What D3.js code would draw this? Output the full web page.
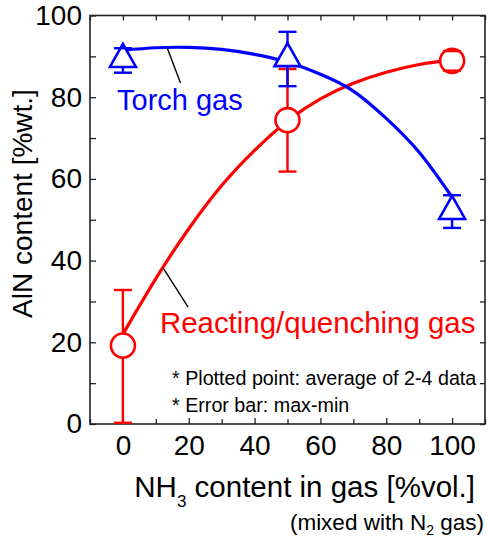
<!DOCTYPE html>
<html>
<head>
<meta charset="utf-8">
<script src="https://cdnjs.cloudflare.com/ajax/libs/d3/7.8.5/d3.min.js"></script>
<style>
  body { margin: 0; background: #fff; }
  svg text { font-family: "Liberation Sans", Arial, sans-serif; }
</style>
</head>
<body>
<div id="chart"></div>
<script>
// measured points (mean, max, min)
const nh3 = [0, 50, 100];
const torchMean = [89.6, 89.8, 52.4];
const torchMax = [92, 96, 56];
const torchMin = [86, 82.7, 48];
const reactMean = [19.2, 74.4, 88.9];
const reactMax = [32.8, 86.9, 91.3];
const reactMin = [0.3, 61.8, 86.5];

// fitted curves
const torchCurveX = [0, 10, 20, 30, 40, 50, 60, 70, 80, 90, 100];
const torchCurveY = [91.5, 92.1, 92.2, 91.7, 90.5, 88.6, 85.6, 81.5, 74.8, 66.5, 55.5];
const reactCurveX = [0, 10, 20, 30, 40, 50, 60, 70, 80, 90, 100];
const reactCurveY = [22, 35.6, 47.8, 58.4, 67, 74.2, 79.6, 83.4, 86.1, 88, 89.2];

const xMajor = [0, 20, 40, 60, 80, 100];
const xMinor = [-10, 10, 30, 50, 70, 90, 110];
const yMajor = [0, 20, 40, 60, 80, 100];
const yMinor = [10, 30, 50, 70, 90];

const W = 488, H = 541;
const pLeft = 90, pRight = 485, pTop = 15.5, pBottom = 424;
const blue = "#0000ff", red = "#ff0000";

const svg = d3.select("#chart").append("svg")
  .attr("width", W).attr("height", H);

const x = d3.scaleLinear().domain([-10, 110]).range([pLeft, pRight]);
const y = d3.scaleLinear().domain([0, 100]).range([pBottom, pTop]);

// axes, ticks pointing inward
function noLabels(g) { g.selectAll("text").remove(); g.select(".domain").remove(); }

svg.append("g").attr("transform", `translate(0,${pBottom})`)
  .call(d3.axisBottom(x).tickValues(xMajor).tickSize(-6).tickPadding(11).tickFormat(d3.format("d")))
  .call(g => g.select(".domain").remove())
  .call(g => g.selectAll("text").attr("font-size", 28).attr("fill", "#000"));
svg.append("g").attr("transform", `translate(0,${pBottom})`)
  .call(d3.axisBottom(x).tickValues(xMinor).tickSize(-5)).call(noLabels);
svg.append("g").attr("transform", `translate(0,${pTop})`)
  .call(d3.axisTop(x).tickValues(xMajor.concat(xMinor)).tickSize(-5)).call(noLabels);

svg.append("g").attr("transform", `translate(${pLeft},0)`)
  .call(d3.axisLeft(y).tickValues(yMajor).tickSize(-6).tickPadding(8))
  .call(g => g.select(".domain").remove())
  .call(g => g.selectAll("text").attr("font-size", 28).attr("fill", "#000"));
svg.append("g").attr("transform", `translate(${pLeft},0)`)
  .call(d3.axisLeft(y).tickValues(yMinor).tickSize(-6)).call(noLabels);
svg.append("g").attr("transform", `translate(${pRight},0)`)
  .call(d3.axisRight(y).tickValues(yMajor.concat(yMinor)).tickSize(-5)).call(noLabels);

svg.selectAll(".tick line").attr("stroke", "#222").attr("stroke-width", 1.3);

svg.append("rect")
  .attr("x", pLeft).attr("y", pTop)
  .attr("width", pRight - pLeft).attr("height", pBottom - pTop)
  .attr("fill", "none").attr("stroke", "#222").attr("stroke-width", 1.6);

// axis titles
svg.append("text")
  .attr("transform", `translate(32,${(85 + 322) / 2}) rotate(-90)`)
  .attr("text-anchor", "middle").attr("font-size", 28)
  .text("AlN content [%wt.]");

const xt = svg.append("text").attr("x", 475).attr("y", 497)
  .attr("text-anchor", "end").attr("font-size", 29.5);
xt.append("tspan").text("NH");
xt.append("tspan").attr("font-size", 17).attr("dy", 10).text("3");
xt.append("tspan").attr("dy", -10).text(" content in gas [%vol.]");

const xt2 = svg.append("text").attr("x", 484).attr("y", 530)
  .attr("text-anchor", "end").attr("font-size", 22.5);
xt2.append("tspan").text("(mixed with N");
xt2.append("tspan").attr("font-size", 14).attr("dy", 5).text("2");
xt2.append("tspan").attr("dy", -5).text(" gas)");

// curves
const line = d3.line().x(d => x(d[0])).y(d => y(d[1])).curve(d3.curveNatural);

function series(cx, cy, mean, hi, lo, color, marker) {
  const g = svg.append("g");
  g.append("path")
    .datum(cx.map((v, i) => [v, cy[i]]))
    .attr("d", line).attr("fill", "none")
    .attr("stroke", color).attr("stroke-width", 3.2);
  nh3.forEach((v, i) => {
    const px = x(v);
    g.append("line").attr("x1", px).attr("x2", px)
      .attr("y1", y(hi[i])).attr("y2", y(lo[i]))
      .attr("stroke", color).attr("stroke-width", 2.4);
  });
  nh3.forEach((v, i) => {
    const px = x(v), py = y(mean[i]);
    if (marker === "circle") {
      g.append("circle").attr("cx", px).attr("cy", py).attr("r", 12)
        .attr("fill", "#fff").attr("stroke", color).attr("stroke-width", 2.6);
    } else {
      g.append("path")
        .attr("d", `M${px},${py - 14}L${px + 13},${py + 9}L${px - 13},${py + 9}Z`)
        .attr("fill", "#fff").attr("stroke", color).attr("stroke-width", 2.6)
        .attr("stroke-linejoin", "miter");
    }
  });
  // caps on top of the markers
  nh3.forEach((v, i) => {
    const px = x(v);
    [hi[i], lo[i]].forEach(e => {
      g.append("line").attr("x1", px - 9).attr("x2", px + 9)
        .attr("y1", y(e)).attr("y2", y(e))
        .attr("stroke", color).attr("stroke-width", 2.4);
    });
  });
}

series(reactCurveX, reactCurveY, reactMean, reactMax, reactMin, red, "circle");
series(torchCurveX, torchCurveY, torchMean, torchMax, torchMin, blue, "triangle");

// labels with leader lines
svg.append("line").attr("x1", x(13.5)).attr("y1", y(92)).attr("x2", x(17.5)).attr("y2", y(83.5))
  .attr("stroke", "#000").attr("stroke-width", 1.4);
svg.append("text").attr("x", 117).attr("y", 110).attr("font-size", 29)
  .attr("fill", blue).text("Torch gas");

svg.append("line").attr("x1", x(12.2)).attr("y1", y(38.2)).attr("x2", x(19.8)).attr("y2", y(28.6))
  .attr("stroke", "#000").attr("stroke-width", 1.4);
svg.append("text").attr("x", 160).attr("y", 333).attr("font-size", 29.4)
  .attr("fill", red).text("Reacting/quenching gas");

svg.append("text").attr("x", 172).attr("y", 385).attr("font-size", 19.7)
  .text("* Plotted point: average of 2-4 data");
svg.append("text").attr("x", 172).attr("y", 412).attr("font-size", 19.7)
  .text("* Error bar: max-min");
</script>
</body>
</html>
